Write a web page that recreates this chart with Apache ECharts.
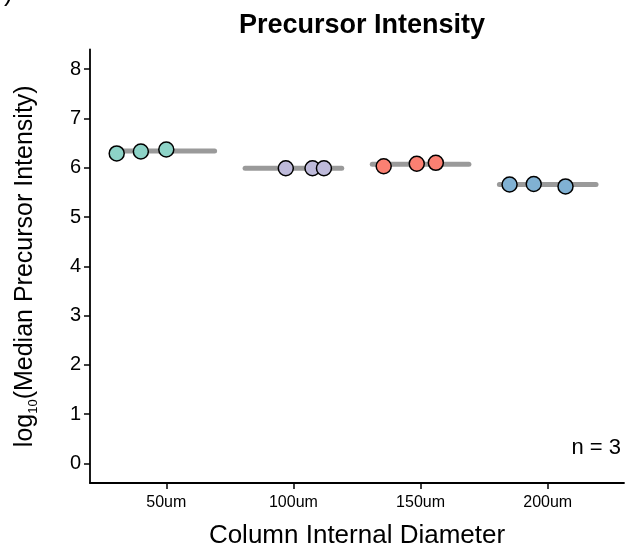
<!DOCTYPE html>
<html>
<head>
<meta charset="utf-8">
<script src="https://cdn.jsdelivr.net/npm/echarts@6/dist/echarts.min.js"></script>
<style>
  html, body { margin: 0; padding: 0; background: #fff; }
  #main { width: 627px; height: 554px; }
</style>
</head>
<body>
<div id="main"></div>
<script>
// 柱子内径分组
var categories = ['50um', '100um', '150um', '200um'];
// 每组三个重复的抖动横坐标(类别位置 1..4)
var jitterX = [
    [0.61, 0.80, 1.00],
    [1.94, 2.15, 2.24],
    [2.71, 2.97, 3.12],
    [3.70, 3.89, 4.14]
];
// log10(中位前体强度)
var intensity = [
    [6.29, 6.33, 6.37],
    [5.99, 5.99, 5.99],
    [6.03, 6.08, 6.10],
    [5.66, 5.67, 5.62]
];
// 中位线
var medianIntensity = [6.34, 5.99, 6.07, 5.66];
var yTicks = [0, 1, 2, 3, 4, 5, 6, 7, 8];
var xTicks = [1, 2, 3, 4];

var colors = ['#8DD3C7', '#BEBADA', '#FB8072', '#80B1D3'];
var font = 'Liberation Sans, Arial, Helvetica, sans-serif';

var series = [];
// 灰色中位线
for (var i = 0; i < categories.length; i++) {
    series.push({
        name: categories[i] + ' median',
        type: 'line',
        data: [[i + 1 - 0.38, medianIntensity[i]], [i + 1 + 0.38, medianIntensity[i]]],
        symbol: 'none',
        lineStyle: { color: '#9a9a9a', width: 5, cap: 'round' },
        z: 1,
        silent: true
    });
}
// 各点
for (var j = 0; j < categories.length; j++) {
    var pts = [];
    for (var k = 0; k < intensity[j].length; k++) {
        pts.push([jitterX[j][k], intensity[j][k]]);
    }
    series.push({
        name: categories[j],
        type: 'scatter',
        data: pts,
        symbolSize: 15,
        itemStyle: { color: colors[j], borderColor: '#000', borderWidth: 1.5, opacity: 1 },
        z: 3
    });
}

var chart = echarts.init(document.getElementById('main'));
chart.setOption({
    animation: false,
    textStyle: { fontFamily: font },
    title: {
        text: 'Precursor Intensity',
        left: 234,
        top: 7,
        textStyle: { fontSize: 27, fontWeight: 'bold', color: '#000', fontFamily: font }
    },
    grid: { left: 90, right: 3, top: 49.5, bottom: 69.7, containLabel: false },
    xAxis: {
        type: 'value',
        min: 0.4,
        max: 4.6,
        name: 'Column Internal Diameter',
        nameLocation: 'middle',
        nameGap: 40,
        nameTextStyle: { fontSize: 26, color: '#000', fontFamily: font },
        axisLine: { show: true, onZero: false, lineStyle: { color: '#000', width: 1.8 } },
        axisTick: { show: true, customValues: xTicks, length: 6, lineStyle: { color: '#000', width: 1.5 } },
        axisLabel: {
            customValues: xTicks,
            margin: 12,
            fontSize: 16,
            color: '#000',
            formatter: function (v) { return categories[Math.round(v) - 1]; }
        },
        splitLine: { show: false }
    },
    yAxis: {
        type: 'value',
        min: -0.4,
        max: 8.4,
        name: '{main|log}{sub|10}{main|(Median Precursor Intensity)}',
        nameLocation: 'middle',
        nameGap: 50,
        nameTextStyle: {
            color: '#000',
            rich: {
                main: { fontSize: 25, color: '#000', fontFamily: font, lineHeight: 30 },
                sub: { fontSize: 13, color: '#000', fontFamily: font, verticalAlign: 'bottom', lineHeight: 16, padding: [9, 0, 0, 0] }
            }
        },
        axisLine: { show: true, onZero: false, lineStyle: { color: '#000', width: 1.8 } },
        axisTick: { show: true, customValues: yTicks, length: 6, lineStyle: { color: '#000', width: 1.5 } },
        axisLabel: {
            customValues: yTicks,
            margin: 9,
            fontSize: 20,
            color: '#000'
        },
        splitLine: { show: false }
    },
    graphic: [
        {
            type: 'text',
            right: 6,
            top: 437,
            style: { text: 'n = 3', fontSize: 22, fill: '#000', fontFamily: font }
        },
        {
            type: 'text',
            left: 4,
            top: -19,
            style: { text: ')', fontSize: 26, fill: '#000', fontFamily: font }
        }
    ],
    series: series
});
</script>
</body>
</html>
